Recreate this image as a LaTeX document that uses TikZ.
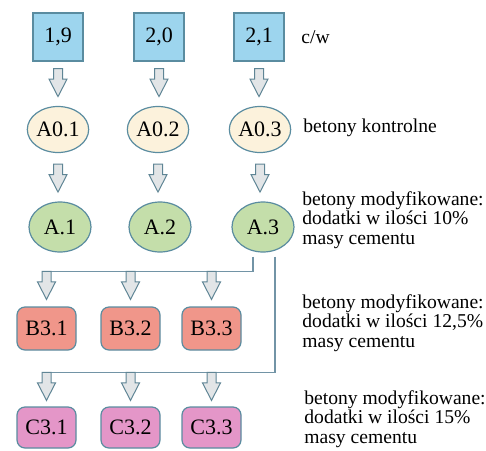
\documentclass[tikz,border=0pt]{standalone}
\usepackage{fontspec}
\setmainfont{Liberation Serif}
\usetikzlibrary{calc,shapes.geometric}
\definecolor{edgecol}{HTML}{5A8CA0}
\definecolor{linkcol}{HTML}{7294A6}
\definecolor{arrline}{HTML}{5F8595}
\definecolor{arrfill}{HTML}{E2E5E7}
\definecolor{ratiofill}{HTML}{9DD5EE}
\definecolor{ctrlfill}{HTML}{FCF2DC}
\definecolor{modAfill}{HTML}{C4DEAA}
\definecolor{modBfill}{HTML}{F0968A}
\definecolor{modCfill}{HTML}{E496C8}

\begin{document}
\begin{tikzpicture}[x=0.5pt,y=-0.5pt,
  base/.style={draw=edgecol,line width=0.6pt,inner sep=0pt,font=\fontsize{11}{12}\selectfont},
  ratio/.style={base,fill=ratiofill,minimum width=25pt,minimum height=24pt},
  ctrl/.style={base,ellipse,fill=ctrlfill,minimum width=29.5pt,minimum height=23pt},
  modA/.style={base,ellipse,fill=modAfill,minimum width=31pt,minimum height=25pt},
  modB/.style={base,rounded corners=4pt,fill=modBfill,minimum width=29.5pt,minimum height=21.5pt},
  modC/.style={base,rounded corners=4pt,fill=modCfill,minimum width=29.5pt,minimum height=20.5pt},
  note/.style={anchor=west,align=left,inner sep=0pt,font=\fontsize{9.8}{9.85}\selectfont},
  link/.style={draw=linkcol,line width=0.75pt},
  darr/.pic={\draw[draw=arrline,fill=arrfill,line width=0.5pt] (-4.5,0) -- (4.5,0) -- (4.5,10.5) -- (9,10.5) -- (0,28) -- (-9,10.5) -- (-4.5,10.5) -- cycle;}]
\useasboundingbox (0,0) rectangle (486,450);
% w/c ratios
\node[ratio] (w1) at (58,37) {1,9};
\node[ratio] (w2) at (159,37) {2,0};
\node[ratio] (w3) at (259,37) {2,1};
% control and modified concretes
\node[ctrl] (k1) at (58,129.5) {A0.1};
\node[ctrl] (k2) at (158,129.5) {A0.2};
\node[ctrl] (k3) at (260,129.5) {A0.3};
\node[modA] (a1) at (60,227) {A.1};
\node[modA] (a2) at (160,227) {A.2};
\node[modA] (a3) at (263,227) {A.3};
\node[modB] (b1) at (46.5,328.5) {B3.1};
\node[modB] (b2) at (130.5,328.5) {B3.2};
\node[modB] (b3) at (211.5,328.5) {B3.3};
\node[modC] (c1) at (46.5,427.5) {C3.1};
\node[modC] (c2) at (130.5,427.5) {C3.2};
\node[modC] (c3) at (211.5,427.5) {C3.3};
% branches from A.3
\coordinate (splitB) at ($(a3.south)+(-10,4)$);
\coordinate (splitC) at ($(a3.south)+(12,4)$);
\draw[link] (splitB) |- ($(b1.north)+(-4.5,-35)$);
\draw[link] (splitC) |- ($(c1.north)+(-4.5,-34)$);
\foreach \i in {1,2,3} {
  \pic at ($(w\i.south)+(0,7)$) {darr};
  \pic at ($(k\i.south)+(0,11)$) {darr};
  \pic at ($(b\i.north)+(0,-35)$) {darr};
  \pic at ($(c\i.north)+(0,-34)$) {darr};
}
% labels
\node[note] (lw) at (301,37) {c/w};
\node[note] (lk) at (303,128) {betony kontrolne};
\node[note] (lA) at (302,220) {betony modyfikowane:\\dodatki w ilości 10\%\\masy cementu};
\node[note] (lB) at (302,323) {betony modyfikowane:\\dodatki w ilości 12,5\%\\masy cementu};
\node[note] (lC) at (304,419) {betony modyfikowane:\\dodatki w ilości 15\%\\masy cementu};
\end{tikzpicture}
\end{document}
